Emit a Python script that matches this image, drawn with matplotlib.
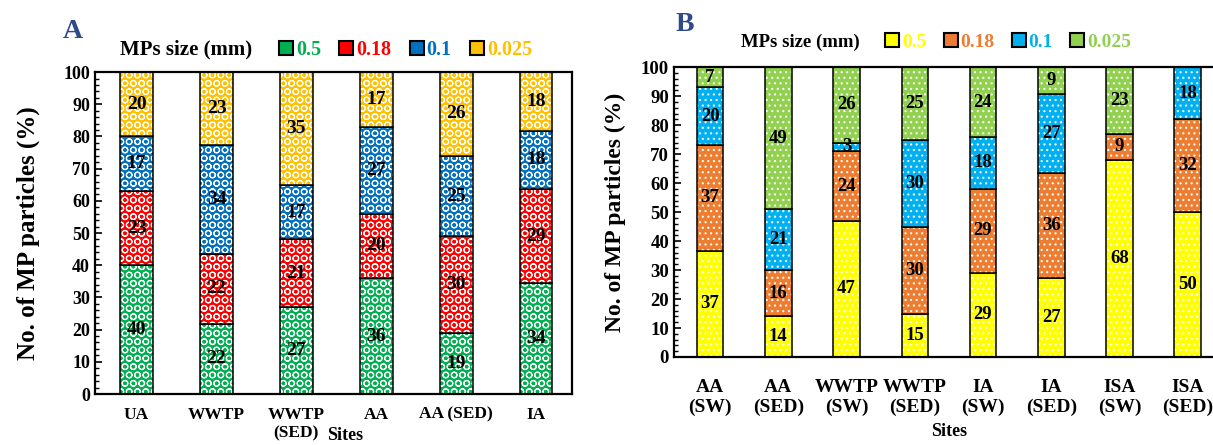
import matplotlib
matplotlib.use("Agg")
import matplotlib.pyplot as plt
from matplotlib.patches import Patch
from matplotlib.ticker import MultipleLocator

plt.rcParams["font.family"] = ["Liberation Serif", "DejaVu Serif"]
plt.rcParams["font.weight"] = "bold"
plt.rcParams["hatch.linewidth"] = 0.8

size_labels = ["0.5", "0.18", "0.1", "0.025"]

# Panel A
sites_a = ["UA", "WWTP", "WWTP\n(SED)", "AA", "AA (SED)", "IA"]
a_05 = [40, 22, 27, 36, 19, 34]
a_018 = [23, 22, 21, 20, 30, 29]
a_01 = [17, 34, 17, 27, 25, 18]
a_0025 = [20, 23, 35, 17, 26, 18]
colors_a = ["#00B050", "#FF0000", "#0070C0", "#FFC000"]

# Panel B
sites_b = ["AA\n(SW)", "AA\n(SED)", "WWTP\n(SW)", "WWTP\n(SED)",
           "IA\n(SW)", "IA\n(SED)", "ISA\n(SW)", "ISA\n(SED)"]
b_05 = [37, 14, 47, 15, 29, 27, 68, 50]
b_018 = [37, 16, 24, 30, 29, 36, 9, 32]
b_01 = [20, 21, 3, 30, 18, 27, 0, 18]
b_0025 = [7, 49, 26, 25, 24, 9, 23, 0]
colors_b = ["#FFFF00", "#ED7D31", "#00B0F0", "#92D050"]


def stacked(ax, sites, series, colors, hatch, width, fs_val):
    x = list(range(len(sites)))
    # rounded percentages: scale each column so it fills 100 %
    totals = [sum(col) for col in zip(*series)]
    bottom = [0] * len(sites)
    for vals, c in zip(series, colors):
        h = [v * 100 / t for v, t in zip(vals, totals)]
        ax.bar(x, h, width, bottom=bottom, color=c, hatch=hatch,
               edgecolor="white", linewidth=0)
        ax.bar(x, h, width, bottom=bottom, fill=False,
               edgecolor="black", linewidth=1.1)
        for xi, v, hi, b in zip(x, vals, h, bottom):
            if v > 0:
                ax.text(xi, b + hi / 2, str(v), ha="center", va="center",
                        fontsize=fs_val, fontweight="bold", color="black")
        bottom = [b + hi for b, hi in zip(bottom, h)]


def style_axes(ax, fs_tick):
    ax.set_ylim(0, 100)
    ax.yaxis.set_major_locator(MultipleLocator(10))
    ax.yaxis.set_minor_locator(MultipleLocator(2))
    ax.tick_params(axis="y", which="major", direction="in", length=5,
                   width=1.2, labelsize=fs_tick)
    ax.tick_params(axis="y", which="minor", direction="in", length=3, width=1)
    ax.tick_params(axis="x", length=0)
    for s in ax.spines.values():
        s.set_linewidth(1.6)


fig = plt.figure(figsize=(12.13, 4.45), dpi=100)

axa = fig.add_axes([0.0783, 0.1146, 0.3933, 0.7234])
stacked(axa, sites_a, [a_05, a_018, a_01, a_0025], colors_a, "OO", 0.41, 14)
axa.set_xlim(-0.52, 5.45)
axa.set_xticks(range(len(sites_a)))
axa.set_xticklabels(sites_a, fontsize=12.5, fontweight="bold")
axa.tick_params(axis="x", pad=9)
style_axes(axa, 13)
axa.set_ylabel("No. of MP particles (%)", fontsize=18, fontweight="bold",
               labelpad=17)
fig.text(345 / 1213, 0.002, "Sites", ha="center", va="bottom",
         fontsize=13, fontweight="bold")

axb = fig.add_axes([0.5556, 0.1978, 0.4534, 0.651])
stacked(axb, sites_b, [b_05, b_018, b_01, b_0025], colors_b, "...", 0.39, 13.5)
axb.set_xlim(-0.53, 7.53)
axb.set_xticks(range(len(sites_b)))
axb.set_xticklabels(sites_b, fontsize=14, fontweight="bold")
axb.tick_params(axis="x", pad=16)
style_axes(axb, 13.5)
axb.set_ylabel("No. of MP particles (%)", fontsize=17, fontweight="bold",
               labelpad=11)
axb.set_xlabel("Sites", fontsize=13, fontweight="bold", labelpad=5)

# legends
for colors, tx, ty, lx, fs_t, fs_l in [
    (colors_a, 0.153, 0.888, 0.230, 15, 14.5),
    (colors_b, 0.660, 0.905, 0.730, 13.5, 14),
]:
    fig.text(tx, ty, "MPs size (mm)", ha="center", va="center",
             fontsize=fs_t, fontweight="bold")
    handles = [Patch(facecolor=c, edgecolor="black", linewidth=1.5) for c in colors]
    fig.legend(handles, size_labels, loc="center left", bbox_to_anchor=(lx, ty),
               ncol=4, frameon=False, handlelength=0.7, handleheight=0.7,
               handletextpad=0.15, columnspacing=0.9, borderaxespad=0,
               borderpad=0, labelcolor=colors,
               prop={"size": fs_l, "weight": "bold"})

fig.text(0.052, 0.93, "A", fontsize=20, fontweight="bold", color="#2E4A8B",
         va="center")
fig.text(0.557, 0.945, "B", fontsize=20, fontweight="bold", color="#2E4A8B",
         va="center")

fig.savefig("out.png", dpi=100)
